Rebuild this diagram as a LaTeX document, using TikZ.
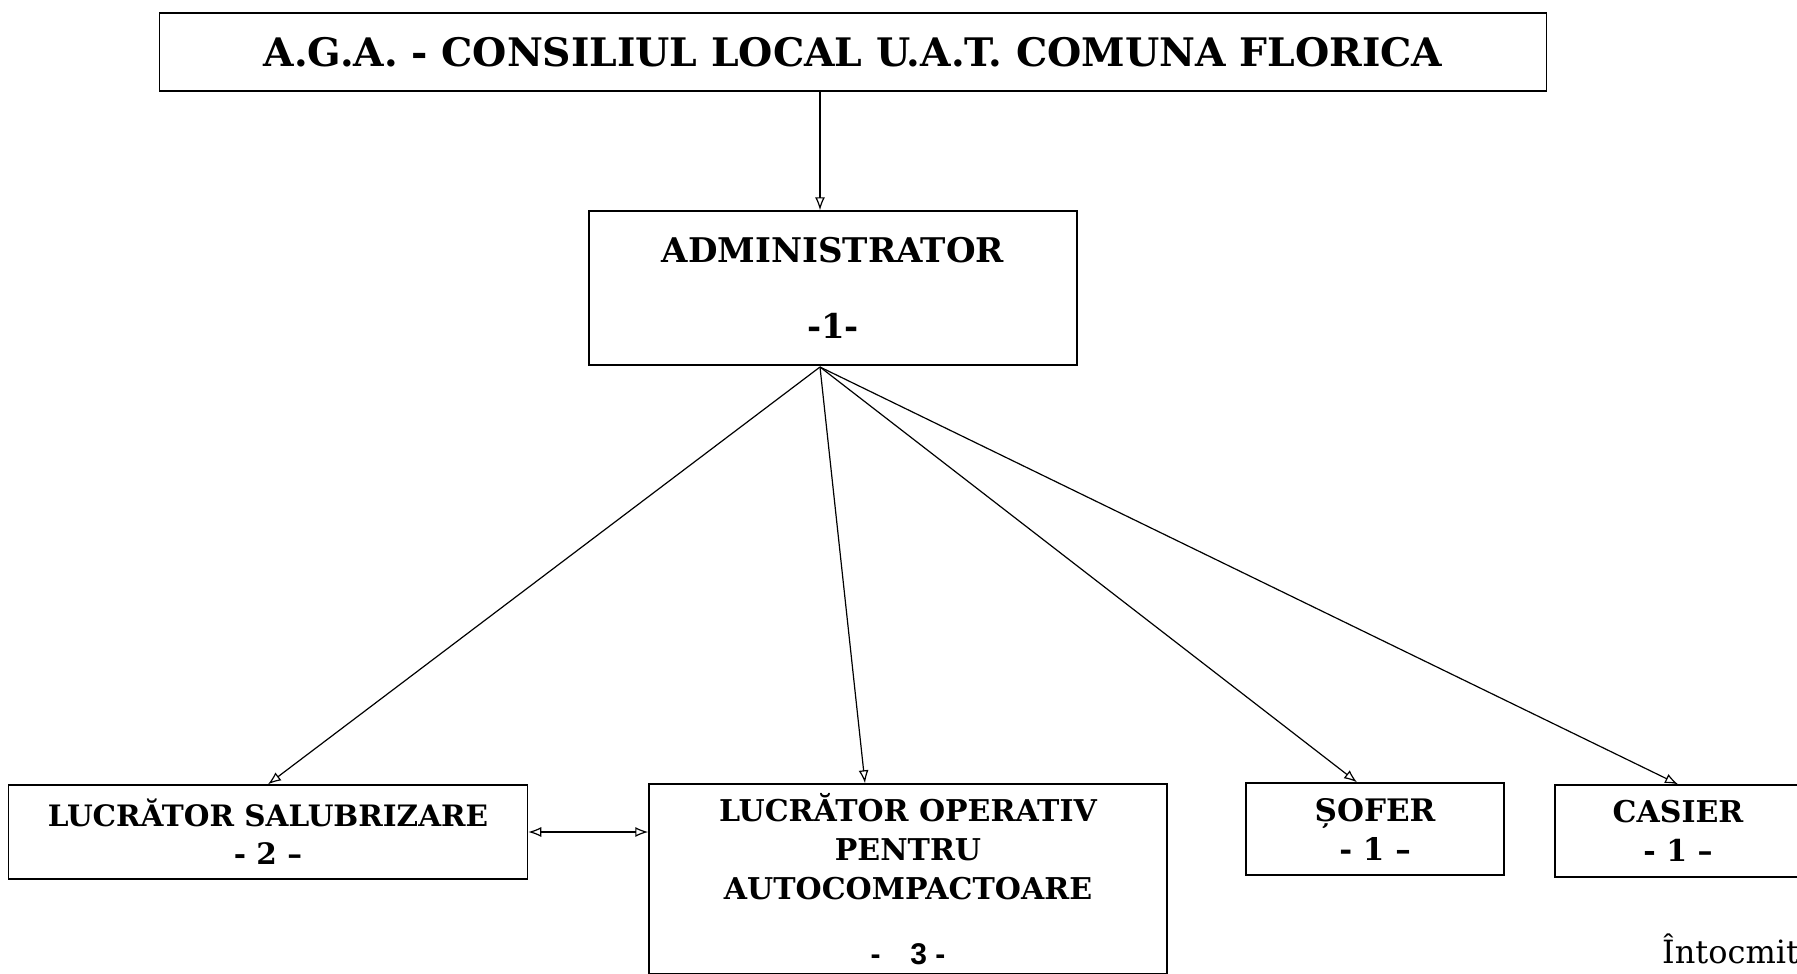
\documentclass[tikz,border=0pt]{standalone}
\usepackage{fontspec}
\setmainfont{DejaVu Serif}
\newfontfamily\numfont{Liberation Sans}
\usetikzlibrary{arrows.meta}

\tikzset{
  box/.style={draw=black, line width=1.5pt, rectangle, inner sep=0pt, align=center,
    font=\bfseries\fontsize{31}{39}\selectfont},
  link/.style={draw=black, line width=1.2pt, -{Latex[open,length=13pt,width=10pt]}},
  dlink/.style={draw=black, line width=1.2pt, {Latex[open,length=13pt,width=10pt]}-{Latex[open,length=13pt,width=10pt]}},
}

\begin{document}
\begin{tikzpicture}[x=1pt,y=-1pt]
\useasboundingbox[fill=white] (0,0) rectangle (1797,974);

% top level
\node[box, minimum width=1387pt, minimum height=78pt, font=\bfseries\fontsize{39.3}{48}\selectfont] (aga) at (853,52) {A.G.A. - CONSILIUL LOCAL U.A.T. COMUNA FLORICA};
\node[box, minimum width=488pt, minimum height=154pt, font=\bfseries\fontsize{34}{40}\selectfont] (admin) at (833,288) {ADMINISTRATOR\\[36pt]-1-};

% staff
\node[box, minimum width=519pt, minimum height=94pt, font=\bfseries\fontsize{29.5}{38}\selectfont] (salub) at (268,832) {LUCRĂTOR SALUBRIZARE\\- 2 --};
\node[box, minimum width=518pt, minimum height=190pt, font=\bfseries\fontsize{30}{39}\selectfont] (oper) at (908,879) {LUCRĂTOR OPERATIV\\PENTRU\\AUTOCOMPACTOARE\\[26pt]{\numfont -\quad 3 -}};
\node[box, minimum width=258pt, minimum height=92pt] (sofer) at (1375,829) {ȘOFER\\- 1 --};
\node[box, minimum width=246pt, minimum height=92pt, font=\bfseries\fontsize{30}{39}\selectfont] (casier) at (1678,831) {CASIER\\- 1 --};

\node[anchor=base west, inner sep=0pt, font=\fontsize{32}{36}\selectfont] (intocmit) at (1662,963) {Întocmit};

% connectors
\coordinate (hub) at (820,367);
\draw[link] (aga.south -| hub) -- (admin.north -| hub);
\draw[link] (hub) -- (salub.north);
\draw[link] (hub) -- ([xshift=-43pt]oper.north);
\draw[link] (hub) -- ([xshift=-18pt]sofer.north);
\draw[link] (hub) -- (casier.north);
\draw[dlink] (salub.east) -- (salub.east -| oper.west);
\end{tikzpicture}
\end{document}
